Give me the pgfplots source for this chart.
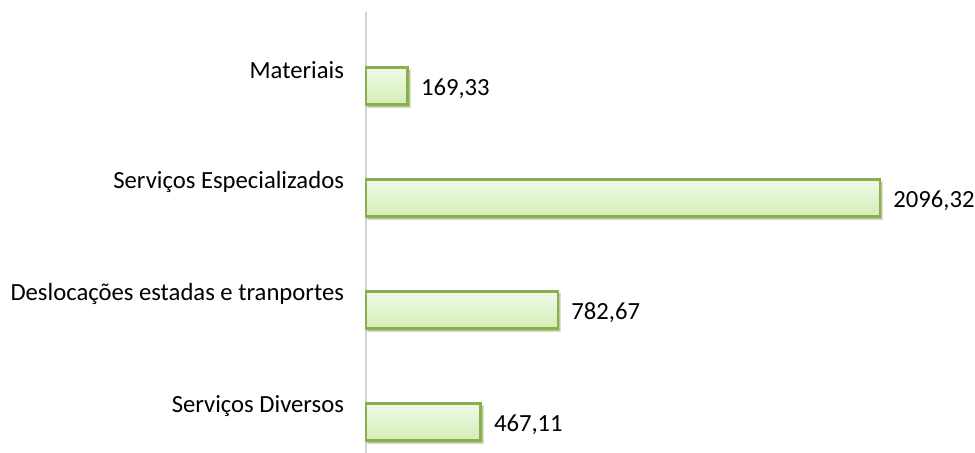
\documentclass[border=0pt]{standalone}
\usepackage{pgfplots}
\pgfplotsset{compat=1.18}
\usepackage{fontspec}
\setmainfont{Carlito}
\usetikzlibrary{shadows}
\definecolor{barborder}{HTML}{8BAD4E}
\definecolor{bartop}{HTML}{F0F9E6}
\definecolor{barbot}{HTML}{D3EDB6}
\begin{document}
\begin{tikzpicture}
\begin{axis}[
  at={(0,0)}, anchor=south west,
  scale only axis,
  width=456.75pt, height=330.75pt,
  xmin=0, xmax=2484,
  ymin=-0.277, ymax=3.661,
  xbar, bar width=27.75pt, bar shift=0pt,
  axis x line=none,
  axis y line*=left,
  y axis line style={draw=gray!35, line width=0.9pt},
  ytick={0,1,2,3},
  yticklabels={Serviços Diversos, Deslocações estadas e tranportes, Serviços Especializados, Materiais},
  major tick length=0pt,
  yticklabel style={font=\fontsize{18.5}{21}\selectfont, anchor=east, yshift=12pt, xshift=-13pt, text=black},
  /pgf/number format/.cd, assume math mode=true, use comma, fixed, fixed zerofill, precision=2, 1000 sep={},
  /pgfplots/.cd,
  nodes near coords,
  every node near coord/.append style={font=\fontsize{18.5}{21}\selectfont, anchor=west, xshift=6pt, yshift=-2pt, text=black},
  clip=false,
  barsty/.style={draw=barborder, line width=1.6pt, top color=bartop, bottom color=barbot,
  drop shadow={shadow xshift=1.5pt, shadow yshift=-2pt, opacity=0.35}},
]
\addplot[barsty] coordinates {(467.11,0)};
\addplot[barsty] coordinates {(782.67,1)};
\addplot[barsty] coordinates {(2096.32,2)};
\addplot[barsty] coordinates {(169.33,3)};
\end{axis}
\pgfresetboundingbox
\path[use as bounding box] (-274.5pt,0) rectangle (456.75pt,339.75pt);
\end{tikzpicture}
\end{document}
